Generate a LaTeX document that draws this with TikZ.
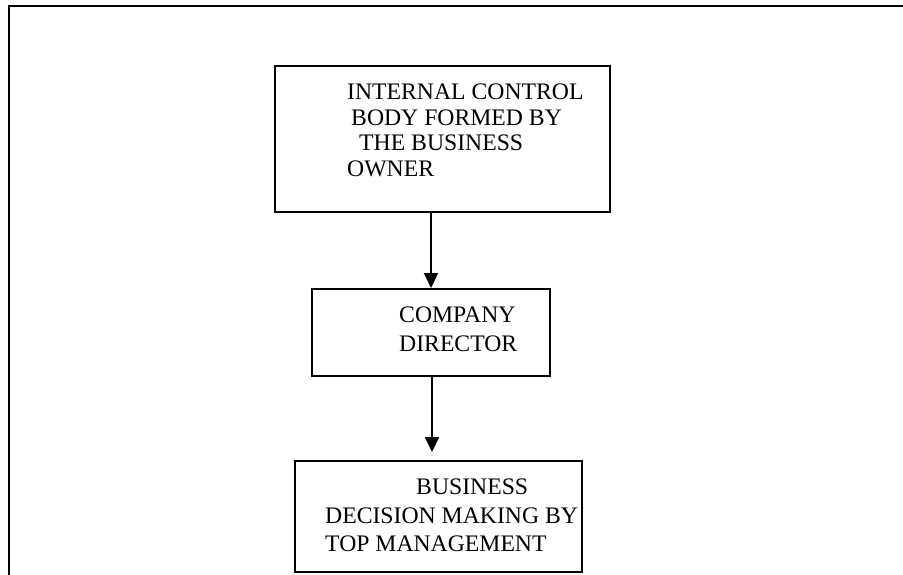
\documentclass[tikz,border=0pt]{standalone}
\usepackage{fontspec}
\setmainfont{Liberation Serif}
\usetikzlibrary{arrows.meta}
\tikzset{
  boxnode/.style={draw, line width=2pt, rectangle, inner sep=0pt},
  txt/.style={anchor=base west, inner sep=0pt, font=\fontsize{23.7}{25}\selectfont},
  arr/.style={line width=2pt, -{Triangle[width=14pt,length=15pt]}},
  frameline/.style={line width=2.5pt}
}
\begin{document}
\begin{tikzpicture}[x=1pt,y=-1pt]
\useasboundingbox (0,0) rectangle (903,575);
% outer frame (left and top edges)
\coordinate (f1) at (9,576);
\coordinate (f2) at (9,6);
\coordinate (f3) at (904,6);
\draw[frameline] (f1) -- (f2) -- (f3);
% boxes
\node[boxnode, minimum width=335pt, minimum height=146pt] (box1) at (442.5,139) {};
\node[boxnode, minimum width=238pt, minimum height=87pt] (box2) at (431,332.5) {};
\node[boxnode, minimum width=287pt, minimum height=111pt] (box3) at (438.5,516.5) {};
% texts
\node[txt] (t11) at (347,100) {INTERNAL CONTROL};
\node[txt] (t12) at (351,125.5) {BODY FORMED BY};
\node[txt] (t13) at (359,151) {THE BUSINESS};
\node[txt] (t14) at (347,177) {OWNER};
\node[txt] (t21) at (399,322) {COMPANY};
\node[txt] (t22) at (399,351) {DIRECTOR};
\node[txt] (t31) at (416,494) {BUSINESS};
\node[txt] (t32) at (325,523) {DECISION MAKING BY};
\node[txt] (t33) at (325,551.5) {TOP MANAGEMENT};
% arrows
\coordinate (a1) at (431,0);
\coordinate (a2) at (432,0);
\draw[arr] (box1.south -| a1) -- (box2.north -| a1);
\draw[arr, shorten >=8pt] (box2.south -| a2) -- (box3.north -| a2);
\end{tikzpicture}
\end{document}
